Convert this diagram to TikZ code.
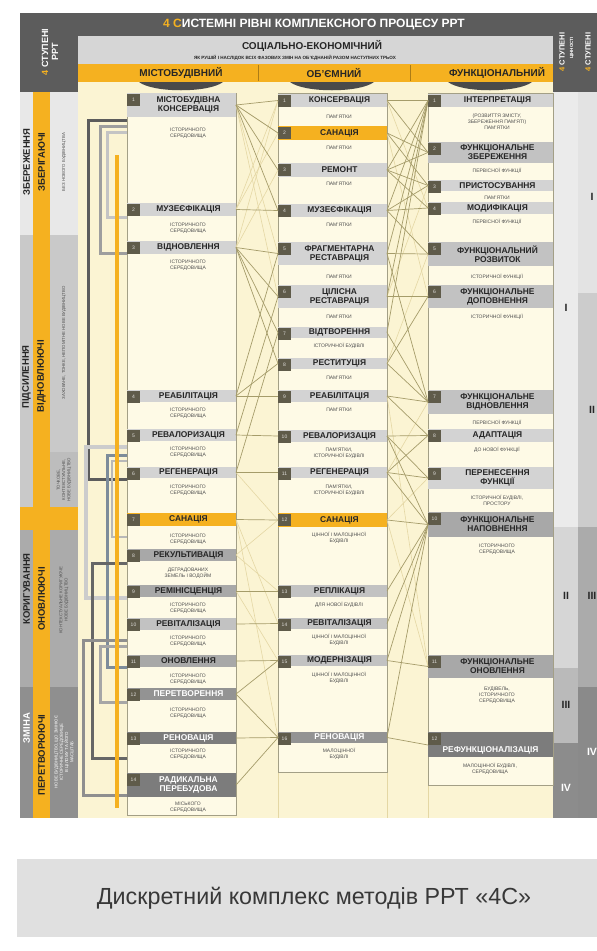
\documentclass[tikz,border=0pt]{standalone}
\usepackage{fontspec}
\setmainfont{Liberation Sans}
\definecolor{hdr}{HTML}{5C5C5C}
\definecolor{org}{HTML}{F5B120}
\definecolor{lgray}{HTML}{D6D6D6}
\definecolor{bgc}{HTML}{FBF4D3}
\definecolor{boxc}{HTML}{FEFAE6}
\definecolor{boxl}{HTML}{A39F86}
\definecolor{barA}{HTML}{D3D3D3}
\definecolor{barB}{HTML}{C2C2C2}
\definecolor{barC}{HTML}{A8A8A8}
\definecolor{barD}{HTML}{939393}
\definecolor{barE}{HTML}{7C7C7C}
\definecolor{numc}{HTML}{5F5B4A}
\definecolor{txt}{HTML}{262626}
\definecolor{subt}{HTML}{4E4E4E}
\definecolor{olive}{HTML}{A59C6A}
\definecolor{pale}{HTML}{E4D7A4}
\tikzset{
 ttl/.style={font=\fontsize{8.4}{9}\selectfont\bfseries, align=center, inner sep=0pt},
 subl/.style={font=\fontsize{5}{5.9}\selectfont, text=subt, align=center, inner sep=0pt},
 numsq/.style={fill=numc, text=white!80!numc, font=\fontsize{5}{5}\selectfont, minimum width=13pt, minimum height=12pt, inner sep=0pt},
 bA/.style={fill=barA, text=txt}, bB/.style={fill=barB, text=txt}, bC/.style={fill=barC, text=txt},
 bD/.style={fill=barD, text=white}, bE/.style={fill=barE, text=white}, bO/.style={fill=org, text=txt},
 lnk/.style={draw=olive, line width=0.7pt},
 plk/.style={draw=pale, line width=0.6pt},
 colbox/.style={draw=boxl, line width=0.7pt, fill=boxc},
 vtxt/.style={rotate=90, font=\fontsize{9.5}{10}\selectfont\bfseries, text=txt, inner sep=0pt},
 vsm/.style={rotate=90, font=\fontsize{4.3}{5.2}\selectfont, text=txt!80, align=center, inner sep=0pt},
 roman/.style={font=\fontsize{10.5}{10.5}\selectfont\bfseries, text=txt, inner sep=0pt},
 hd/.style={font=\fontsize{10}{10}\selectfont\bfseries, text=txt, inner sep=0pt},
}
\newcommand\mbar[8]{%
  \fill[#8] (#2,#4) rectangle (#3,#5);
  \node[numsq] (#1n) at ({#2+6.5},{#4+6.5}) {#6};
  \node[ttl,#8,fill=none] (#1) at ({(#2+14+#3)/2},{(#4+#5)/2}) {#7};
  \coordinate (#1L) at (#2,{(#4+#5)/2});
  \coordinate (#1R) at (#3,{(#4+#5)/2});
}
\newcommand\msub[4]{\node[subl] (#1) at (#2,#3) {#4};}
\begin{document}
\begin{tikzpicture}[x=1pt,y=-1pt]
\useasboundingbox (0,0) rectangle (597,951);
\fill[white] (0,0) rectangle (597,951);
% main background
\fill[bgc] (78,82) rectangle (553,818);
% header
\fill[hdr] (20,13) rectangle (553,36);
\fill[hdr] (20,13) rectangle (78,92);
\fill[hdr] (553,13) rectangle (597,92);
\fill[lgray] (78,36) rectangle (553,64);
\fill[org] (78,64) rectangle (553,82);
\draw[org!70!black, line width=0.5pt] (258,65) -- (258,81) (410,65) -- (410,81);
\node[font=\fontsize{12}{12}\selectfont\bfseries, text=white] (title) at (314,25) {\textcolor{org}{4 С}ИСТЕМНІ РІВНІ КОМПЛЕКСНОГО ПРОЦЕСУ РРТ};
\node[hd] (soc) at (312,46) {СОЦІАЛЬНО-ЕКОНОМІЧНИЙ};
\node[font=\fontsize{4.6}{5}\selectfont\bfseries, text=txt] (socs) at (295,58) {ЯК РУШІЙ І НАСЛІДОК ВСІХ ФАЗОВИХ ЗМІН НА ОБ'ЄДНАНІЙ РАЗОМ НАСТУПНИХ ТРЬОХ};
\node[hd] (h1) at (181,73) {МІСТОБУДІВНИЙ};
\node[hd] (h2) at (334,73) {ОБ'ЄМНИЙ};
\node[hd] (h3) at (497,73) {ФУНКЦІОНАЛЬНИЙ};
\foreach \cx in {181,332,490}{
  \fill[hdr!80!black] (\cx-42,82) .. controls (\cx-28,93) and (\cx+28,93) .. (\cx+42,82) -- cycle;
}
\node[rotate=90, font=\fontsize{9}{10}\selectfont\bfseries, text=white, align=center] (lh) at (50,52) {\textcolor{org}{4} СТУПЕНІ\\РРТ};
\node[rotate=90, font=\fontsize{7.5}{7.5}\selectfont\bfseries, text=white] (rh1) at (562,52) {\textcolor{org}{4} СТУПЕНІ};
\node[rotate=90, font=\fontsize{4.5}{4.5}\selectfont\bfseries, text=white!80] (rh1b) at (572,48) {ЦІННОСТІ};
\node[rotate=90, font=\fontsize{7.5}{7.5}\selectfont\bfseries, text=white] (rh2) at (588,52) {\textcolor{org}{4} СТУПЕНІ};
% left strip
\fill[white!91!black] (20,92) rectangle (78,235);
\fill[white!79!black] (20,235) rectangle (78,507);
\fill[white!74!black] (50,452) rectangle (78,507);
\fill[org] (20,507) rectangle (78,530);
\fill[white!67!black] (20,530) rectangle (78,687);
\fill[white!56!black] (20,687) rectangle (78,818);
\fill[org] (33,92) rectangle (50,818);
\node[vtxt] (s1a) at (26.5,162) {ЗБЕРЕЖЕННЯ};
\node[vtxt] (s1b) at (41.5,162) {ЗБЕРІГАЮЧІ};
\node[vsm] (s1c) at (64,162) {БЕЗ НОВОГО БУДІВНИЦТВА};
\node[vtxt] (s2a) at (26.5,377) {ПІДСИЛЕННЯ};
\node[vtxt] (s2b) at (41.5,376) {ВІДНОВЛЮЮЧІ};
\node[vsm] (s2c) at (64,343) {ЗАХОВАНЕ, ТОНКЕ, НЕПОМІТНЕ НОВЕ БУДІВНИЦТВО};
\node[vsm] (s2d) at (64,480) {ТОЧКОВЕ,\\КОНТЕКСТУАЛЬНЕ,\\НОВЕ БУДІВНИЦТВО};
\node[vtxt] (s3a) at (26.5,589) {КОРИГУВАННЯ};
\node[vtxt] (s3b) at (41.5,599) {ОНОВЛЮЮЧІ};
\node[vsm] (s3c) at (64,600) {КОНТЕКСТУАЛЬНЕ КОРИГУЮЧЕ\\НОВЕ БУДІВНИЦТВО};
\node[vtxt, text=white!90] (s4a) at (26.5,728) {ЗМІНА};
\node[vtxt] (s4b) at (41.5,755) {ПЕРЕТВОРЮЮЧІ};
\node[vsm, text=white!90] (s4c) at (64,752) {НОВЕ БУДІВНИЦТВО, ЩО ЗМІНЮЄ\\ІСТОРИЧНЕ СЕРЕДОВИЩЕ\\В ЦІЛОМУ ТА ЙОГО\\МАСШТАБ};
% right strip
\fill[white!92!black] (553,92) rectangle (578,527);
\fill[white!84!black] (553,527) rectangle (578,668);
\fill[white!73!black] (553,668) rectangle (578,743);
\fill[white!55!black] (553,743) rectangle (578,818);
\fill[white!89!black] (578,92) rectangle (597,293);
\fill[white!80!black] (578,293) rectangle (597,527);
\fill[white!67!black] (578,527) rectangle (597,687);
\fill[white!54!black] (578,687) rectangle (597,818);
\node[roman] (r1a) at (566,308) {I};
\node[roman] (r1b) at (566,596) {II};
\node[roman] (r1c) at (566,705) {III};
\node[roman, text=white] (r1d) at (566,788) {IV};
\node[roman] (r2a) at (592,197) {I};
\node[roman] (r2b) at (592,410) {II};
\node[roman] (r2c) at (592,596) {III};
\node[roman, text=white] (r2d) at (592,752) {IV};
% guides
\draw[pale, line width=0.6pt] (278,772) -- (278,818) (387,772) -- (387,818) (428,785) -- (428,818);
% column boxes
\draw[colbox] (127,93) rectangle (236,815);
\draw[colbox] (278,93) rectangle (387,772);
\draw[colbox] (428,93) rectangle (553,785);
% column 1
\mbar{a1}{127}{236}{93}{117}{1}{МІСТОБУДІВНА\\КОНСЕРВАЦІЯ}{bA}
\msub{a1s}{188}{133}{ІСТОРИЧНОГО\\СЕРЕДОВИЩА}
\mbar{a2}{127}{236}{203}{216}{2}{МУЗЕЄФІКАЦІЯ}{bA}
\msub{a2s}{188}{228}{ІСТОРИЧНОГО\\СЕРЕДОВИЩА}
\mbar{a3}{127}{236}{241}{254}{3}{ВІДНОВЛЕННЯ}{bA}
\msub{a3s}{188}{265}{ІСТОРИЧНОГО\\СЕРЕДОВИЩА}
\mbar{a4}{127}{236}{390}{402}{4}{РЕАБІЛІТАЦІЯ}{bA}
\msub{a4s}{188}{413}{ІСТОРИЧНОГО\\СЕРЕДОВИЩА}
\mbar{a5}{127}{236}{429}{441}{5}{РЕВАЛОРИЗАЦІЯ}{bA}
\msub{a5s}{188}{452}{ІСТОРИЧНОГО\\СЕРЕДОВИЩА}
\mbar{a6}{127}{236}{467}{478}{6}{РЕГЕНЕРАЦІЯ}{bA}
\msub{a6s}{188}{490}{ІСТОРИЧНОГО\\СЕРЕДОВИЩА}
\mbar{a7}{127}{236}{513}{526}{7}{САНАЦІЯ}{bO}
\msub{a7s}{188}{539}{ІСТОРИЧНОГО\\СЕРЕДОВИЩА}
\mbar{a8}{127}{236}{549}{561}{8}{РЕКУЛЬТИВАЦІЯ}{bC}
\msub{a8s}{188}{573}{ДЕГРАДОВАНИХ\\ЗЕМЕЛЬ І ВОДОЙМ}
\mbar{a9}{127}{236}{585}{597}{9}{РЕМІНІСЦЕНЦІЯ}{bC}
\msub{a9s}{188}{608}{ІСТОРИЧНОГО\\СЕРЕДОВИЩА}
\mbar{a10}{127}{236}{618}{630}{10}{РЕВІТАЛІЗАЦІЯ}{bB}
\msub{a10s}{188}{641}{ІСТОРИЧНОГО\\СЕРЕДОВИЩА}
\mbar{a11}{127}{236}{655}{667}{11}{ОНОВЛЕННЯ}{bC}
\msub{a11s}{188}{679}{ІСТОРИЧНОГО\\СЕРЕДОВИЩА}
\mbar{a12}{127}{236}{688}{700}{12}{ПЕРЕТВОРЕННЯ}{bD}
\msub{a12s}{188}{713}{ІСТОРИЧНОГО\\СЕРЕДОВИЩА}
\mbar{a13}{127}{236}{732}{744}{13}{РЕНОВАЦІЯ}{bE}
\msub{a13s}{188}{754}{ІСТОРИЧНОГО\\СЕРЕДОВИЩА}
\mbar{a14}{127}{236}{773}{797}{14}{РАДИКАЛЬНА\\ПЕРЕБУДОВА}{bE}
\msub{a14s}{188}{807}{МІСЬКОГО\\СЕРЕДОВИЩА}
% column 2
\mbar{b1}{278}{387}{94}{107}{1}{КОНСЕРВАЦІЯ}{bA}
\msub{b1s}{339}{117}{ПАМ'ЯТКИ}
\mbar{b2}{278}{387}{126}{140}{2}{САНАЦІЯ}{bO}
\msub{b2s}{339}{148}{ПАМ'ЯТКИ}
\mbar{b3}{278}{387}{163}{177}{3}{РЕМОНТ}{bA}
\msub{b3s}{339}{184}{ПАМ'ЯТКИ}
\mbar{b4}{278}{387}{204}{217}{4}{МУЗЕЄФІКАЦІЯ}{bA}
\msub{b4s}{339}{225}{ПАМ'ЯТКИ}
\mbar{b5}{278}{387}{242}{265}{5}{ФРАГМЕНТАРНА\\РЕСТАВРАЦІЯ}{bA}
\msub{b5s}{339}{277}{ПАМ'ЯТКИ}
\mbar{b6}{278}{387}{285}{308}{6}{ЦІЛІСНА\\РЕСТАВРАЦІЯ}{bA}
\msub{b6s}{339}{317}{ПАМ'ЯТКИ}
\mbar{b7}{278}{387}{327}{338}{7}{ВІДТВОРЕННЯ}{bA}
\msub{b7s}{339}{346}{ІСТОРИЧНОЇ БУДІВЛІ}
\mbar{b8}{278}{387}{358}{369}{8}{РЕСТИТУЦІЯ}{bA}
\msub{b8s}{339}{378}{ПАМ'ЯТКИ}
\mbar{b9}{278}{387}{390}{402}{9}{РЕАБІЛІТАЦІЯ}{bA}
\msub{b9s}{339}{410}{ПАМ'ЯТКИ}
\mbar{b10}{278}{387}{430}{442}{10}{РЕВАЛОРИЗАЦІЯ}{bA}
\msub{b10s}{339}{453}{ПАМ'ЯТКИ,\\ІСТОРИЧНОЇ БУДІВЛІ}
\mbar{b11}{278}{387}{467}{478}{11}{РЕГЕНЕРАЦІЯ}{bA}
\msub{b11s}{339}{490}{ПАМ'ЯТКИ,\\ІСТОРИЧНОЇ БУДІВЛІ}
\mbar{b12}{278}{387}{513}{527}{12}{САНАЦІЯ}{bO}
\msub{b12s}{339}{538}{ЦІННОЇ І МАЛОЦІННОЇ\\БУДІВЛІ}
\mbar{b13}{278}{387}{585}{597}{13}{РЕПЛІКАЦІЯ}{bB}
\msub{b13s}{339}{605}{ДЛЯ НОВОЇ БУДІВЛІ}
\mbar{b14}{278}{387}{618}{629}{14}{РЕВІТАЛІЗАЦІЯ}{bB}
\msub{b14s}{339}{640}{ЦІННОЇ І МАЛОЦІННОЇ\\БУДІВЛІ}
\mbar{b15}{278}{387}{655}{666}{15}{МОДЕРНІЗАЦІЯ}{bB}
\msub{b15s}{339}{678}{ЦІННОЇ І МАЛОЦІННОЇ\\БУДІВЛІ}
\mbar{b16}{278}{387}{732}{743}{16}{РЕНОВАЦІЯ}{bD}
\msub{b16s}{339}{754}{МАЛОЦІННОЇ\\БУДІВЛІ}
% column 3
\mbar{c1}{428}{553}{94}{107}{1}{ІНТЕРПРЕТАЦІЯ}{bA}
\msub{c1s}{497}{122}{(РОЗВИТТЯ ЗМІСТУ,\\ЗБЕРЕЖЕННЯ ПАМ'ЯТІ)\\ПАМ'ЯТКИ}
\mbar{c2}{428}{553}{142}{163}{2}{ФУНКЦІОНАЛЬНЕ\\ЗБЕРЕЖЕННЯ}{bB}
\msub{c2s}{497}{171}{ПЕРВІСНОЇ ФУНКЦІЇ}
\mbar{c3}{428}{553}{180}{191}{3}{ПРИСТОСУВАННЯ}{bA}
\msub{c3s}{497}{198}{ПАМ'ЯТКИ}
\mbar{c4}{428}{553}{202}{214}{4}{МОДИФІКАЦІЯ}{bA}
\msub{c4s}{497}{222}{ПЕРВІСНОЇ ФУНКЦІЇ}
\mbar{c5}{428}{553}{242}{266}{5}{ФУНКЦІОНАЛЬНИЙ\\РОЗВИТОК}{bB}
\msub{c5s}{497}{277}{ІСТОРИЧНОЇ ФУНКЦІЇ}
\mbar{c6}{428}{553}{285}{308}{6}{ФУНКЦІОНАЛЬНЕ\\ДОПОВНЕННЯ}{bB}
\msub{c6s}{497}{317}{ІСТОРИЧНОЇ ФУНКЦІЇ}
\mbar{c7}{428}{553}{390}{414}{7}{ФУНКЦІОНАЛЬНЕ\\ВІДНОВЛЕННЯ}{bB}
\msub{c7s}{497}{423}{ПЕРВІСНОЇ ФУНКЦІЇ}
\mbar{c8}{428}{553}{429}{442}{8}{АДАПТАЦІЯ}{bA}
\msub{c8s}{497}{450}{ДО НОВОЇ ФУНКЦІЇ}
\mbar{c9}{428}{553}{467}{489}{9}{ПЕРЕНЕСЕННЯ\\ФУНКЦІЇ}{bA}
\msub{c9s}{497}{500}{ІСТОРИЧНОЇ БУДІВЛІ,\\ПРОСТОРУ}
\mbar{c10}{428}{553}{512}{537}{10}{ФУНКЦІОНАЛЬНЕ\\НАПОВНЕННЯ}{bC}
\msub{c10s}{497}{549}{ІСТОРИЧНОГО\\СЕРЕДОВИЩА}
\mbar{c11}{428}{553}{655}{678}{11}{ФУНКЦІОНАЛЬНЕ\\ОНОВЛЕННЯ}{bC}
\msub{c11s}{497}{695}{БУДІВЕЛЬ,\\ІСТОРИЧНОГО\\СЕРЕДОВИЩА}
\fill[bE] (428,732) rectangle (553,757);
\node[numsq] (c12n) at (434.5,738.5) {12};
\node[ttl, text=white] (c12) at (490.5,750) {РЕФУНКЦІОНАЛІЗАЦІЯ};
\coordinate (c12L) at (428,745);
\msub{c12s}{490}{769}{МАЛОЦІННОЇ БУДІВЛІ,\\СЕРЕДОВИЩА}
% pale links
\foreach \p/\q in {a1R/b5L, a1R/b6L, a2R/b1L, a2R/b2L, a3R/b1L, a3R/b3L, a7R/b14L, a7R/b16L, a8R/b13L, a8R/b12L, a9R/b15L, a6R/b12L}
  \draw[plk] (\p) -- (\q);
\foreach \p/\q in {b1R/c4L, b2R/c6L, b6R/c3L, b8R/c5L, b9R/c11L, b12R/c11L, b12R/c9L, b11R/c7L}
  \draw[plk] (\p) -- (\q);
% olive links col1-col2
\foreach \p/\q in {a1R/b1L, a1R/b2L, a1R/b3L, a1R/b4L, a2R/b4L, a3R/b5L, a3R/b6L, a3R/b7L, a3R/b8L, a4R/b5L, a5R/b6L, a6R/b7L, a4R/b8L, a4R/b9L, a5R/b10L, a6R/b11L, a7R/b12L, a9R/b13L, a10R/b14L, a11R/b15L, a12R/b15L, a12R/b16L, a13R/b16L, a14R/b16L}
  \draw[lnk] (\p) -- (\q);
% olive links col2-col3
\foreach \p/\q in {b1R/c1L, b3R/c1L, b4R/c1L, b5R/c1L, b6R/c1L, b7R/c1L, b1R/c2L, b2R/c2L, b3R/c2L, b3R/c3L, b4R/c3L, b2R/c3L, b4R/c4L, b3R/c4L, b5R/c5L, b4R/c5L, b6R/c6L, b8R/c6L, b7R/c7L, b8R/c7L, b9R/c7L, b5R/c7L, b9R/c8L, b10R/c8L, b11R/c8L, b10R/c9L, b11R/c9L, b10R/c10L, b11R/c10L, b12R/c10L, b13R/c10L, b14R/c10L, b15R/c10L, b16R/c10L, b15R/c11L, b16R/c12L}
  \draw[lnk] (\p) -- (\q);
% brackets on the left of column 1
\coordinate (k1a) at (127,120); \coordinate (k1b) at (127,479);
\coordinate (k2a) at (127,126); \coordinate (k2b) at (127,253);
\coordinate (k3a) at (127,132); \coordinate (k3b) at (127,217);
\coordinate (k5a) at (127,447); \coordinate (k5b) at (127,598);
\coordinate (k6a) at (127,455); \coordinate (k6b) at (127,667);
\coordinate (k7a) at (127,461); \coordinate (k7b) at (127,537);
\coordinate (k8a) at (127,563); \coordinate (k8b) at (127,758);
\coordinate (k9a) at (127,640); \coordinate (k9b) at (127,795);
\coordinate (k10a) at (127,646); \coordinate (k10b) at (127,702);
\coordinate (k4a) at (117,155); \coordinate (k4b) at (117,808);
\draw[line width=3pt, white!36!black] (k1a) -- ++(-39,0) |- (k1b);
\draw[line width=3pt, white!62!black] (k2a) -- ++(-27,0) |- (k2b);
\draw[line width=3pt, white!77!black] (k3a) -- ++(-20,0) |- (k3b);
\draw[line width=4pt, white!80!black] (k5a) -- ++(-41,0) |- (k5b);
\draw[line width=2pt, white!72!black] (k7a) -- ++(-15,0) |- (k7b);
\draw[line width=3pt, color={rgb,255:red,125;green,140;blue,154}] (k6a) -- ++(-20,0) |- (k6b);
\draw[line width=3pt, white!40!black] (k8a) -- ++(-35,0) |- (k8b);
\draw[line width=3pt, white!56!black] (k9a) -- ++(-44,0) |- (k9b);
\draw[line width=3pt, white!65!black] (k10a) -- ++(-27,0) |- (k10b);
\draw[line width=4pt, org] (k4a) -- (k4b);
% caption
\fill[white!88!black] (17,859) rectangle (597,937);
\node[font=\fontsize{23.3}{26}\selectfont, text=white!22!black] (cap) at (314,898) {Дискретний комплекс методів РРТ «4С»};
\end{tikzpicture}
\end{document}
